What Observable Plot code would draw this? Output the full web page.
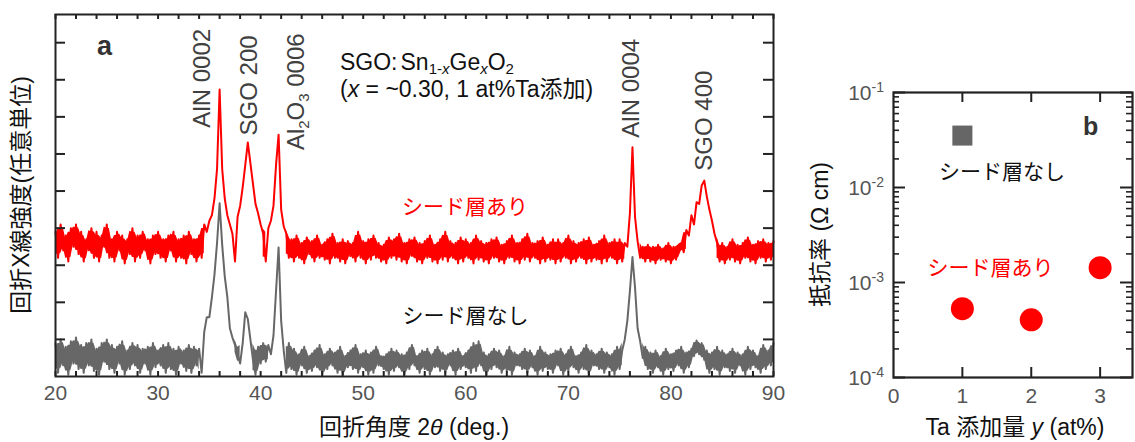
<!DOCTYPE html>
<html><head><meta charset="utf-8">
<script src="https://cdn.jsdelivr.net/npm/d3@7"></script>
<script src="https://cdn.jsdelivr.net/npm/@observablehq/plot@0.6"></script>
<style>
body{margin:0;background:#fff;}
#wrap{display:flex;width:1135px;height:442px;overflow:hidden;}
#wrap > svg{flex:none;}
</style></head><body><div id="wrap"></div>
<script>
const FONT = '"Liberation Sans", Arial, "Noto Sans CJK JP", sans-serif';

// ---------- panel a : XRD (2θ from 20° to 90°, step 0.25°) ----------
const angleStart = 20, angleStep = 0.25;
// シード層あり (red), arbitrary units
const intensityWithSeed = [
3.9,3.2,4.1,3.4, 3.8,3.1,4.0,3.5, 4.1,3.3,3.9,3.1, 3.7,3.4,4.0,3.2, 3.9,3.1,3.8,3.5,
4.1,3.2,3.7,3.1, 3.9,3.4,3.8,3.05, 3.7,3.3,4.0,3.1, 3.8,3.2,3.9,3.4, 3.7,3.05,3.8,3.3,
3.9,3.2,3.7,3.1, 3.8,3.4,3.9,3.1, 3.7,3.2,3.8,3.05, 3.9,3.3,3.7,3.1, 3.8,3.2,4.1,3.9,
4.2,4.35,4.8,5.6, 7.74,5.6,4.8,4.35, 4.1,3.85,3.1,4.3, 4.6,5.1,5.7,6.31, 5.75,5.2,4.65,4.4,
4.1,3.85,3.1,4.0, 4.2,4.6,5.7,6.52, 4.5,4.05,3.85,3.2, 3.7,3.1,3.8,3.2, 3.6,3.05,3.75,3.3,
3.65,3.1,3.8,3.2, 3.55,3.15,3.7,3.05, 3.85,3.2,3.6,3.1, 3.7,3.05,3.65,3.25, 3.6,3.1,3.9,3.2,
3.65,3.05,3.7,3.15, 3.8,3.2,3.6,3.1, 3.55,3.05,3.75,3.2, 3.7,3.15,3.85,3.1, 3.6,3.05,3.7,3.25,
3.75,3.1,3.6,3.05, 3.65,3.2,3.8,3.1, 3.55,3.05,3.7,3.15, 3.9,3.1,3.65,3.2, 3.6,3.05,3.75,3.1,
3.7,3.2,3.6,3.05, 3.8,3.15,3.65,3.1, 3.6,3.05,3.7,3.2, 3.75,3.1,3.55,3.05, 3.65,3.2,3.8,3.1,
3.6,3.05,3.7,3.15, 3.85,3.1,3.6,3.2, 3.65,3.05,3.75,3.1, 3.55,3.15,3.7,3.05, 3.7,3.1,3.6,3.2,
3.8,3.05,3.65,3.1, 3.6,3.2,3.7,3.05, 3.75,3.1,3.55,3.15, 3.65,3.05,3.8,3.1, 3.6,3.2,3.7,3.05,
3.7,3.1,3.6,3.5, 4.4,6.18,4.3,3.65, 3.2,3.5,3.1,3.55, 3.1,3.5,3.05,3.55, 3.15,3.45,3.1,3.6,
3.05,3.5,3.15,3.55, 3.6,3.35,3.95,3.8, 4.35,4.1,4.7,4.65, 5.15,5.28,4.85,4.5, 4.2,3.85,3.6,3.1,
3.6,3.05,3.5,3.15, 3.7,3.1,3.55,3.05, 3.6,3.2,3.75,3.1, 3.55,3.05,3.65,3.2, 3.7,3.1,3.6,3.15,
3.65];
// シード層なし (gray), arbitrary units
const intensityNoSeed = [
0.9,0.1,1.0,0.3, 0.8,0.05,0.95,0.35, 1.05,0.2,0.85,0.1, 0.9,0.3,1.0,0.15, 0.75,0.05,0.9,0.4,
1.0,0.2,0.85,0.1, 0.8,0.35,0.95,0.05, 0.7,0.2,0.9,0.3, 0.85,0.1,0.75,0.35, 0.8,0.05,0.9,0.25,
0.7,0.3,0.85,0.1, 0.9,0.2,0.75,0.05, 0.8,0.35,0.7,0.15, 0.85,0.1,0.8,0.3, 0.75,0.1,1.2,1.6,
1.6,2.14,2.75,3.6, 4.67,3.55,2.7,2.15, 1.3,1.05,0.85,0.6, 0.35,0.9,1.73,1.55, 1.0,0.45,0.05,0.8,
0.35,0.9,0.4,0.85, 0.6,1.1,2.3,3.48, 1.5,0.7,0.1,0.9, 0.2,0.75,0.05,0.6, 0.3,0.8,0.1,0.55,
0.15,0.7,0.25,0.85, 0.05,0.6,0.2,0.75, 0.3,0.65,0.1,0.8, 0.05,0.55,0.25,0.7, 0.2,0.85,0.1,0.6,
0.25,0.7,0.05,0.65, 0.1,0.8,0.3,0.55, 0.2,0.6,0.05,0.75, 0.15,0.7,0.25,0.6, 0.05,0.65,0.2,0.85,
0.3,0.55,0.1,0.7, 0.2,0.75,0.05,0.6, 0.25,0.8,0.15,0.65, 0.1,0.6,0.3,0.7, 0.05,0.75,0.2,0.55,
0.25,0.7,0.1,0.9, 0.15,0.95,0.3,0.65, 0.05,0.6,0.2,0.75, 0.25,0.7,0.1,0.55, 0.15,0.8,0.05,0.65,
0.3,0.6,0.2,0.75, 0.1,0.7,0.25,0.55, 0.05,0.8,0.15,0.65, 0.2,0.6,0.1,0.7, 0.3,0.75,0.05,0.6,
0.15,0.8,0.25,0.55, 0.1,0.65,0.2,0.85, 0.05,0.7,0.3,0.6, 0.2,0.75,0.1,0.65, 0.25,0.6,0.05,0.8,
0.2,0.7,1.0,1.5, 2.3,3.22,2.4,1.3, 0.95,0.5,0.8,0.2, 0.65,0.1,0.7,0.25, 0.55,0.05,0.75,0.2,
0.6,0.15,0.7,0.3, 0.8,0.1,0.65,0.25, 0.75,0.55,0.97,0.6, 0.9,0.45,0.7,0.1, 0.65,0.2,0.8,0.05,
0.7,0.25,0.6,0.15, 0.75,0.1,0.65,0.3, 0.6,0.05,0.8,0.2, 0.7,0.25,0.55,0.1, 0.85,0.2,0.7,0.3,
0.9];
const angleTickLabels = [20, 30, 40, 50, 60, 70, 80, 90];
const angleMinorTicks = d3.range(20, 91, 2);
const intensityTicks = [1, 2, 3, 4, 5, 6, 7, 8, 9];
const peakNames = ["AlN 0002", "SGO 200", "AlN 0004", "SGO 400"];
const peakLabelAngle = [34.33, 38.91, 76.16, 83.27];
const peakLabelBase = [6.71, 6.50, 6.44, 5.55];
const aluminaLabelAngle = 43.5, aluminaLabelBase = 6.09;

// ---------- panel b : resistivity ----------
const taSeed = [1, 2, 3];
const rhoSeed = [5.3e-4, 4.05e-4, 1.43e-3];
const taNoSeed = [1];
const rhoNoSeed = [3.52e-2];
const taTicks = [0, 1, 2, 3];
const rhoDecades = [1e-4, 1e-3, 1e-2, 1e-1];
const rhoExponents = ["-4", "-3", "-2", "-1"];
const rhoMinor = [-4, -3, -2].flatMap(e => [2,3,4,5,6,7,8,9].map(m => m * 10 ** e));

const FR = "#222";
const RED = "#ff0000", GRAY = "#676767";
const redData = intensityWithSeed.map((v, i) => ({a: angleStart + i * angleStep, v}));
const grayData = intensityNoSeed.map((v, i) => ({a: angleStart + i * angleStep, v}));

// fill the dense noise band between neighbouring samples (background only, peaks stay as lines)
function noiseBand(data, limit) {
  return data.map((d, i) => {
    const w = data.slice(Math.max(0, i - 1), i + 2).map(e => e.v);
    const lo = d3.min(w), hi = d3.max(w), ok = hi <= limit;
    return {a: d.a, lo: ok ? lo + 0.12 * (hi - lo) : NaN, hi: ok ? hi - 0.12 * (hi - lo) : NaN};
  });
}

const wA = 790, hA = 442, mA = {l: 55, r: 17, t: 14, b: 66};
const iwA = wA - mA.l - mA.r, ihA = hA - mA.t - mA.b;

const plotA = Plot.plot({
  width: wA, height: hA,
  marginLeft: mA.l, marginRight: mA.r, marginTop: mA.t, marginBottom: mA.b,
  style: {fontFamily: FONT, background: "white", overflow: "visible"},
  x: {domain: [20, 90]},
  y: {domain: [0, 9.76], axis: null},
  marks: [
    Plot.areaY(noiseBand(redData, 4.15), {x: "a", y1: "lo", y2: "hi", fill: RED}),
    Plot.line(redData, {x: "a", y: "v", stroke: RED, strokeWidth: 2}),
    Plot.areaY(noiseBand(grayData, 1.06), {x: "a", y1: "lo", y2: "hi", fill: GRAY}),
    Plot.line(grayData, {x: "a", y: "v", stroke: GRAY, strokeWidth: 2}),
    Plot.ruleX(angleMinorTicks, {stroke: FR, strokeWidth: 2, insetTop: ihA - 5}),
    Plot.ruleX(angleMinorTicks, {stroke: FR, strokeWidth: 2, insetBottom: ihA - 5}),
    Plot.ruleY(intensityTicks, {stroke: FR, strokeWidth: 2, insetRight: iwA - 10}),
    Plot.ruleY(intensityTicks, {stroke: FR, strokeWidth: 2, insetLeft: iwA - 10}),
    Plot.frame({stroke: FR, strokeWidth: 2}),
    Plot.axisX({ticks: angleTickLabels, tickSize: 0, tickPadding: 9, fontSize: 21, color: "#555", label: null, tickFormat: d => String(d)}),
    Plot.text(peakNames, {
      x: (d, i) => peakLabelAngle[i], y: (d, i) => peakLabelBase[i], text: d => d,
      rotate: -90, textAnchor: "start", lineAnchor: "middle", fontSize: 24, fill: "#404040"
    }),
    Plot.text(["シード層あり"], {x: [59.92], y: [4.555], text: d => d, fontSize: 21, fill: RED, textAnchor: "middle", lineAnchor: "middle"}),
    Plot.text(["シード層なし"], {x: [59.97], y: [1.62], text: d => d, fontSize: 21, fill: "#111", textAnchor: "middle", lineAnchor: "middle"})
  ]
});

const wB = 345, hB = 442, mB = {l: 103, r: 3, t: 92, b: 65};
const iwB = wB - mB.l - mB.r, ihB = hB - mB.t - mB.b;

const plotB = Plot.plot({
  width: wB, height: hB,
  marginLeft: mB.l, marginRight: mB.r, marginTop: mB.t, marginBottom: mB.b,
  style: {fontFamily: FONT, background: "white", overflow: "visible"},
  x: {domain: [0, 3.47]},
  y: {type: "log", domain: [1e-4, 1e-1], axis: null},
  marks: [
    Plot.ruleY(rhoDecades, {stroke: FR, strokeWidth: 2, insetRight: iwB - 12}),
    Plot.ruleY(rhoDecades, {stroke: FR, strokeWidth: 2, insetLeft: iwB - 12}),
    Plot.ruleY(rhoMinor, {stroke: FR, strokeWidth: 1.6, insetRight: iwB - 6}),
    Plot.ruleY(rhoMinor, {stroke: FR, strokeWidth: 1.6, insetLeft: iwB - 6}),
    Plot.ruleX(taSeed, {stroke: FR, strokeWidth: 2, insetTop: ihB - 10}),
    Plot.ruleX(taSeed, {stroke: FR, strokeWidth: 2, insetBottom: ihB - 10}),
    Plot.frame({stroke: FR, strokeWidth: 2.2}),
    Plot.axisX({ticks: taTicks, tickSize: 0, tickPadding: 11, fontSize: 21, color: "#555", label: null, tickFormat: d => String(d)}),
    Plot.dot(taNoSeed, {x: d => d, y: (d, i) => rhoNoSeed[i], symbol: "square", r: 11.3, fill: "#666"}),
    Plot.dot(taSeed, {x: d => d, y: (d, i) => rhoSeed[i], r: 11.5, fill: RED}),
    Plot.text(["シード層なし"], {x: [1.575], y: [0.0144], text: d => d, fontSize: 21, fill: "#111", textAnchor: "middle", lineAnchor: "middle"}),
    Plot.text(["シード層あり"], {x: [1.41], y: [1.4e-3], text: d => d, fontSize: 21, fill: RED, textAnchor: "middle", lineAnchor: "middle"})
  ]
});

const wrap = document.getElementById("wrap");
wrap.appendChild(plotA);
wrap.appendChild(plotB);

function addText(svg, {x, y, rotate = 0, size, weight = "normal", fill = "#111", anchor = "start", dy = null, parts}) {
  const t = d3.select(svg).append("text")
    .attr("transform", `translate(${x},${y})` + (rotate ? ` rotate(${rotate})` : ""))
    .attr("font-size", size).attr("font-weight", weight).attr("fill", fill)
    .attr("text-anchor", anchor).style("font-family", FONT).style("white-space", "pre");
  if (dy) t.attr("dy", dy);
  for (const p of parts) {
    const s = t.append("tspan").text(p.t);
    if (p.italic) s.attr("font-style", "italic");
    if (p.dy) s.attr("dy", p.dy);
    if (p.dx) s.attr("dx", p.dx);
    if (p.size) s.attr("font-size", p.size);
  }
  return t;
}

function scaleFn(plot, name) {
  const s = plot.scale(name);
  if (s && typeof s.apply === "function") return v => s.apply(v);
  return (s.type === "log" ? d3.scaleLog() : d3.scaleLinear()).domain(s.domain).range(s.range);
}
const sxA = scaleFn(plotA, "x"), syA = scaleFn(plotA, "y");
const sxB = scaleFn(plotB, "x"), syB = scaleFn(plotB, "y");

// panel a texts
addText(plotA, {x: sxA(aluminaLabelAngle), y: syA(aluminaLabelBase), rotate: -90, size: 24, fill: "#404040", dy: "0.32em",
  parts: [{t: "Al"}, {t: "2", size: 15, dy: 5}, {t: "O", dy: -5}, {t: "3", size: 15, dy: 5}, {t: " 0006", dy: -5}]});
addText(plotA, {x: 97, y: 55, size: 27, weight: "bold", fill: "#333", parts: [{t: "a"}]});
addText(plotA, {x: 340, y: 70, size: 23, parts: [{t: "SGO:"}, {t: "Sn", dx: 3}, {t: "1-", size: 15, dy: 4}, {t: "x", size: 15, italic: true}, {t: "Ge", dy: -4}, {t: "x", size: 15, italic: true, dy: 4}, {t: "O", dy: -4}, {t: "2", size: 15, dy: 4}]});
addText(plotA, {x: 340, y: 97, size: 23, parts: [{t: "("}, {t: "x", italic: true}, {t: " = ~0.30, 1 at%Ta添加)"}]});
addText(plotA, {x: (mA.l + wA - mA.r) / 2, y: 435, size: 23, anchor: "middle", parts: [{t: "回折角度 2"}, {t: "θ", italic: true}, {t: " (deg.)"}]});
addText(plotA, {x: 21, y: (mA.t + hA - mA.b) / 2, rotate: -90, size: 23, anchor: "middle", dy: "0.35em", parts: [{t: "回折X線強度(任意単位)"}]});

// panel b texts
rhoDecades.forEach((v, i) => {
  addText(plotB, {x: mB.l - 9, y: syB(v) + 7.5, size: 21, fill: "#555", anchor: "end",
    parts: [{t: "10"}, {t: rhoExponents[i], size: 14, dy: -8}]});
});
addText(plotB, {x: 293, y: 135, size: 25, weight: "bold", fill: "#333", parts: [{t: "b"}]});
addText(plotB, {x: 30, y: (mB.t + hB - mB.b) / 2, rotate: -90, size: 23, anchor: "middle", dy: "0.35em", parts: [{t: "抵抗率 (Ω cm)"}]});
addText(plotB, {x: 225, y: 435, size: 23, anchor: "middle", parts: [{t: "Ta 添加量 "}, {t: "y", italic: true}, {t: " (at%)"}]});
</script></body></html>
